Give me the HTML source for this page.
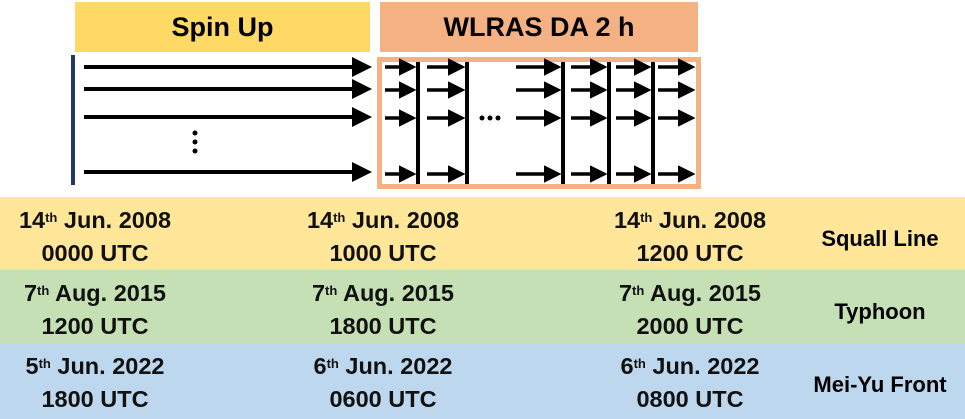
<!DOCTYPE html><html><head><style>
body{margin:0;width:965px;height:419px;overflow:hidden;background:#fff;font-family:"Liberation Sans",Arial,sans-serif;font-weight:bold;position:relative}
.a{position:absolute}
.row{position:absolute;left:0;width:965px;height:73px}
.c{position:absolute;text-align:center;font-size:23.5px;line-height:33px;color:#111;width:260px}
sup{font-size:13px;vertical-align:top;position:relative;top:-3px}
.lab{position:absolute;font-size:22px;width:170px;text-align:center;left:795px}
</style></head><body>
<div class="a" style="left:75px;top:2px;width:295px;height:50px;background:#FFD966;font-size:27px;text-align:center;line-height:50px">Spin Up</div>
<div class="a" style="left:380px;top:2px;width:318px;height:50px;background:#F4B183;font-size:27px;text-align:center;line-height:50px">WLRAS DA 2 h</div>
<svg class="a" style="left:0;top:0" width="965" height="195">
<defs><marker id="m" markerWidth="5" markerHeight="5" refX="4" refY="2.5" orient="auto" markerUnits="strokeWidth"><path d="M0,0L5,2.5L0,5z" fill="#000"/></marker></defs>
<rect x="71" y="55" width="4" height="130" fill="#1F3864"/>
<rect x="379.5" y="59.5" width="319" height="127" fill="#fff" stroke="#F4B183" stroke-width="5"/>
<g stroke="#000" stroke-width="4">
<line x1="84" y1="67" x2="368" y2="67" marker-end="url(#m)"/>
<line x1="84" y1="89" x2="368" y2="89" marker-end="url(#m)"/>
<line x1="84" y1="117" x2="368" y2="117" marker-end="url(#m)"/>
<line x1="84" y1="172" x2="368" y2="172" marker-end="url(#m)"/>
<line x1="418" y1="62" x2="418" y2="184"/><line x1="467" y1="62" x2="467" y2="184"/>
<line x1="563" y1="62" x2="563" y2="184"/><line x1="609" y1="62" x2="609" y2="184"/><line x1="653" y1="62" x2="653" y2="184"/>
</g>
<g stroke="#000" stroke-width="3.5">
<line x1="385" y1="67" x2="413" y2="67" marker-end="url(#m)"/><line x1="427" y1="67" x2="462" y2="67" marker-end="url(#m)"/><line x1="516" y1="67" x2="558" y2="67" marker-end="url(#m)"/><line x1="571" y1="67" x2="604" y2="67" marker-end="url(#m)"/><line x1="616" y1="67" x2="648" y2="67" marker-end="url(#m)"/><line x1="658" y1="67" x2="692" y2="67" marker-end="url(#m)"/>
<line x1="385" y1="90" x2="413" y2="90" marker-end="url(#m)"/><line x1="427" y1="90" x2="462" y2="90" marker-end="url(#m)"/><line x1="516" y1="90" x2="558" y2="90" marker-end="url(#m)"/><line x1="571" y1="90" x2="604" y2="90" marker-end="url(#m)"/><line x1="616" y1="90" x2="648" y2="90" marker-end="url(#m)"/><line x1="658" y1="90" x2="692" y2="90" marker-end="url(#m)"/>
<line x1="385" y1="118" x2="413" y2="118" marker-end="url(#m)"/><line x1="427" y1="118" x2="462" y2="118" marker-end="url(#m)"/><line x1="516" y1="118" x2="558" y2="118" marker-end="url(#m)"/><line x1="571" y1="118" x2="604" y2="118" marker-end="url(#m)"/><line x1="616" y1="118" x2="648" y2="118" marker-end="url(#m)"/><line x1="658" y1="118" x2="692" y2="118" marker-end="url(#m)"/>
<line x1="385" y1="174" x2="413" y2="174" marker-end="url(#m)"/><line x1="427" y1="174" x2="462" y2="174" marker-end="url(#m)"/><line x1="516" y1="174" x2="558" y2="174" marker-end="url(#m)"/><line x1="571" y1="174" x2="604" y2="174" marker-end="url(#m)"/><line x1="616" y1="174" x2="648" y2="174" marker-end="url(#m)"/><line x1="658" y1="174" x2="692" y2="174" marker-end="url(#m)"/>
</g>
<g fill="#000"><circle cx="482" cy="118" r="2.5"/><circle cx="490" cy="118" r="2.5"/><circle cx="498" cy="118" r="2.5"/>
<circle cx="195" cy="133" r="2.5"/><circle cx="195" cy="142" r="2.5"/><circle cx="195" cy="151" r="2.5"/></g>
</svg>
<div class="row" style="top:197px;background:#FFE699"></div>
<div class="row" style="top:270px;background:#C5E0B4"></div>
<div class="row" style="top:343px;background:#BDD7EE;height:76px"></div>
<div class="c" style="left:-35px;top:204px">14<sup>th</sup> Jun. 2008<br>0000 UTC</div>
<div class="c" style="left:253px;top:204px">14<sup>th</sup> Jun. 2008<br>1000 UTC</div>
<div class="c" style="left:560px;top:204px">14<sup>th</sup> Jun. 2008<br>1200 UTC</div>
<div class="lab" style="top:226px">Squall Line</div>
<div class="c" style="left:-35px;top:277px">7<sup>th</sup> Aug. 2015<br>1200 UTC</div>
<div class="c" style="left:253px;top:277px">7<sup>th</sup> Aug. 2015<br>1800 UTC</div>
<div class="c" style="left:560px;top:277px">7<sup>th</sup> Aug. 2015<br>2000 UTC</div>
<div class="lab" style="top:299px">Typhoon</div>
<div class="c" style="left:-35px;top:350px">5<sup>th</sup> Jun. 2022<br>1800 UTC</div>
<div class="c" style="left:253px;top:350px">6<sup>th</sup> Jun. 2022<br>0600 UTC</div>
<div class="c" style="left:560px;top:350px">6<sup>th</sup> Jun. 2022<br>0800 UTC</div>
<div class="lab" style="top:372px">Mei-Yu Front</div>
</body></html>
